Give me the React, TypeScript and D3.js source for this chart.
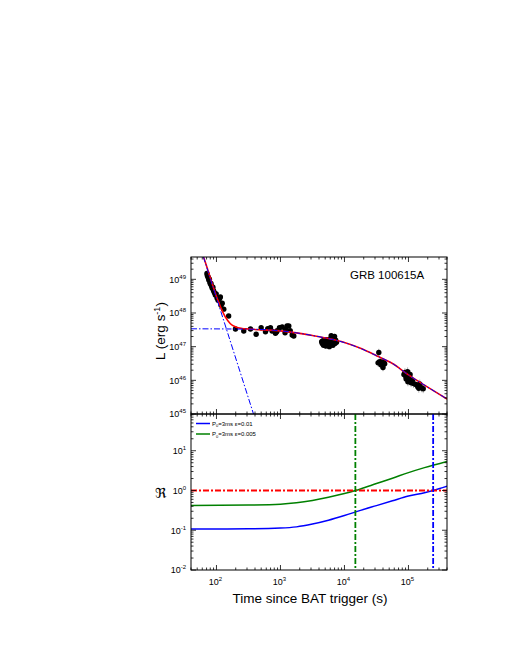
import React from "react";
import * as d3 from "d3";

// ---------- data ----------
const xTickExps = [2, 3, 4, 5];
const topYExps = [45, 46, 47, 48, 49];
const botYExps = [-2, -1, 0, 1];

// observed luminosity points, grouped by epoch (t in s, L in erg/s, err in dex)
const steepObsT = [71, 72, 73.5, 75, 76, 77.5, 79, 80.5, 82, 84, 86, 88, 90, 93, 96, 99, 102, 106, 110, 112, 115, 118, 123, 130, 155];
const steepObsL = [1.5e49, 1.3e49, 1.2e49, 1.1e49, 9.5e48, 1.0e49, 8e48, 7.2e48, 7.6e48, 6.2e48, 5.4e48, 5.8e48, 4.6e48, 4.0e48, 3.4e48, 3.7e48, 2.8e48, 2.4e48, 2.6e48, 2.7e48, 3.0e48, 1.7e48, 1.95e48, 1.3e48, 8.1e47];
const plateauObsT = [198, 267, 340, 417, 499, 583, 633, 698, 740, 835, 866, 888, 964, 1063, 1180, 1197, 1266, 1349, 1420, 1524, 1615];
const plateauObsL = [3.34e47, 2.92e47, 3.34e47, 2.33e47, 3.66e47, 2.78e47, 3.41e47, 3.66e47, 2.9e47, 2.49e47, 2.72e47, 2.98e47, 3.66e47, 3.84e47, 2.6e47, 3.28e47, 4.1e47, 4.1e47, 3.0e47, 2.22e47, 2.07e47];
const blobObsT = [4400, 4500, 4600, 4700, 4800, 4900, 5000, 5100, 5200, 5300, 5400, 5500, 5600, 5700, 5800, 5800, 5900, 6000, 6100, 6200, 6200, 6300, 6400, 6500, 6600, 6700, 6800, 6900, 7000, 7100, 7300, 7500];
const blobObsL = [1.4e47, 1.25e47, 1.5e47, 1.1e47, 1.35e47, 1.2e47, 1.45e47, 1.05e47, 1.3e47, 1.6e47, 1.15e47, 1.4e47, 1.25e47, 1.5e47, 1.1e47, 1.0e47, 1.35e47, 1.7e47, 1.2e47, 1.45e47, 2.1e47, 1.8e47, 1.3e47, 1.55e47, 1.1e47, 1.9e47, 1.4e47, 1.65e47, 2.0e47, 1.25e47, 1.55e47, 1.35e47];
const midObsT = [33500, 34400, 35000, 36500, 37000, 38000, 39500, 40000, 41000, 42500];
const midObsL = [3.3e46, 6.7e46, 3.5e46, 3.6e46, 2.9e46, 3.2e46, 2.8e46, 2.4e46, 3.6e46, 3.1e46];
const lateObsT = [85000, 88000, 91000, 92000, 94000, 97000, 98000, 100000, 103000, 106000, 110000, 115000, 120000, 130000, 140000, 145000, 150000, 160000, 170000];
const lateObsL = [1.5e46, 1.7e46, 1.3e46, 1.1e46, 1.6e46, 1.8e46, 9e45, 1.4e46, 1.1e46, 1.5e46, 8.5e45, 1.0e46, 8e45, 7.5e45, 6.5e45, 5.8e45, 7.8e45, 6e45, 5.6e45];
const groupErrDex = [0.05, 0.07, 0.08, 0.11, 0.13];

// model components
const steepT = [55, 379];
const steepL = [1e50, 1e45];
const plateauT = [40, 316, 1000, 1780, 3160, 5620, 10000, 17800, 31600, 56200, 100000, 178000, 400000];
const plateauL = [3.39e47, 3.31e47, 2.95e47, 2.57e47, 2.14e47, 1.74e47, 1.32e47, 8.9e46, 5.4e46, 3.16e46, 1.45e46, 7.2e45, 2.8e45];
const totalT = [60, 67, 75, 81, 90, 100, 110, 120, 138, 165, 200, 250, 316, 1000, 1780, 3160, 5620, 10000, 17800, 31600, 56200, 100000, 178000, 400000];
const totalL = [5.9e49, 3.2e49, 1.65e49, 1.05e49, 5.6e48, 3.1e48, 1.94e48, 1.29e48, 7.5e47, 4.8e47, 3.85e47, 3.47e47, 3.33e47, 2.95e47, 2.57e47, 2.14e47, 1.74e47, 1.32e47, 8.9e46, 5.4e46, 3.16e46, 1.45e46, 7.2e45, 2.8e45];

// lower panel: ratio curves
const blueT = [40, 316, 1000, 1780, 3160, 5620, 10000, 17800, 31600, 56200, 100000, 178000, 243000, 400000];
const blueR = [0.1076, 0.1089, 0.1135, 0.1216, 0.1429, 0.178, 0.234, 0.316, 0.417, 0.55, 0.724, 0.881, 1.0, 1.28];
const greenT = [40, 316, 1000, 1780, 3160, 5620, 10000, 14800, 17800, 31600, 56200, 100000, 178000, 400000];
const greenR = [0.422, 0.431, 0.452, 0.49, 0.562, 0.676, 0.841, 1.0, 1.096, 1.496, 2.04, 2.82, 3.76, 5.4];
const thresholdR = 1;
const greenCrossT = 14800;
const blueCrossT = 243000;
const legendEps = ["0.01", "0.005"];
const legendColors = ["#0000ff", "#008000"];

// ---------- layout ----------
const W = 510, H = 660;
const L = 191, R = 447, T1 = 257, B1 = 414, T2 = 414, B2 = 570;
const FONT = "'Liberation Sans', Arial, Helvetica, sans-serif";

const x = d3.scaleLog().domain([40, 4e5]).range([L, R]);
const y1 = d3.scaleLog().domain([1e45, 4.6e49]).range([B1, T1]);
const y2 = d3.scaleLog().domain([0.01, 84]).range([B2, T2]);

function minorVals(domain: number[], lo: number, hi: number) {
  const out: number[] = [];
  for (let e = lo; e <= hi; e++) {
    for (let m = 2; m <= 9; m++) {
      const v = m * Math.pow(10, e);
      if (v >= domain[0] && v <= domain[1]) out.push(v);
    }
  }
  return out;
}

const Pow = ({ x: px, y: py, exp, anchor }: { x: number; y: number; exp: number; anchor: string }) => (
  <text x={px} y={py} fontSize={9} fontFamily={FONT} textAnchor={anchor}>
    10<tspan dy={-4} fontSize={6}>{exp}</tspan>
  </text>
);

export default function App() {
  const lineTop = (ys: any) =>
    d3.line<[number, number]>().x((d) => x(d[0])).y((d) => ys(d[1])).curve(d3.curveMonotoneX);
  const zip = (a: number[], b: number[]) => a.map((v, i) => [v, b[i]] as [number, number]);

  const groups = [
    [steepObsT, steepObsL],
    [plateauObsT, plateauObsL],
    [blobObsT, blobObsL],
    [midObsT, midObsL],
    [lateObsT, lateObsL],
  ];
  const obs: { t: number; l: number; e: number }[] = [];
  groups.forEach((g, gi) => g[0].forEach((t, i) => obs.push({ t, l: g[1][i], e: groupErrDex[gi] })));

  const xMinor = minorVals(x.domain(), 1, 5);
  const y1Minor = minorVals(y1.domain(), 45, 49);
  const y2Minor = minorVals(y2.domain(), -2, 1);
  const MJ = 5, MN = 2.5;

  const frameTicks = (ys: any, top: number, bottom: number, yMaj: number[], yMin: number[]) => (
    <g stroke="#000" strokeWidth={0.8}>
      {xTickExps.map((e) => {
        const px = x(Math.pow(10, e));
        return (
          <g key={"xm" + e}>
            <line x1={px} x2={px} y1={bottom} y2={bottom - MJ} />
            <line x1={px} x2={px} y1={top} y2={top + MJ} />
          </g>
        );
      })}
      {xMinor.map((v, i) => (
        <g key={"xn" + i}>
          <line x1={x(v)} x2={x(v)} y1={bottom} y2={bottom - MN} />
          <line x1={x(v)} x2={x(v)} y1={top} y2={top + MN} />
        </g>
      ))}
      {yMaj.map((e) => {
        const py = ys(Math.pow(10, e));
        return (
          <g key={"ym" + e}>
            <line x1={L} x2={L + MJ} y1={py} y2={py} />
            <line x1={R} x2={R - MJ} y1={py} y2={py} />
          </g>
        );
      })}
      {yMin.map((v, i) => (
        <g key={"yn" + i}>
          <line x1={L} x2={L + MN} y1={ys(v)} y2={ys(v)} />
          <line x1={R} x2={R - MN} y1={ys(v)} y2={ys(v)} />
        </g>
      ))}
    </g>
  );

  return (
    <svg width={W} height={H} style={{ position: "absolute", left: 0, top: 0 }} fontFamily={FONT}>
      <rect width={W} height={H} fill="#fff" />
      <defs>
        <clipPath id="cTop"><rect x={L} y={T1} width={R - L} height={B1 - T1} /></clipPath>
        <clipPath id="cBot"><rect x={L} y={T2} width={R - L} height={B2 - T2} /></clipPath>
      </defs>

      {/* ---------- top panel ---------- */}
      <g clipPath="url(#cTop)">
        {obs.map((d, i) => (
          <g key={"e" + i} stroke="#a8a8a8" strokeWidth={0.9}>
            <line x1={x(d.t)} x2={x(d.t)} y1={y1(d.l * Math.pow(10, d.e))} y2={y1(d.l / Math.pow(10, d.e))} />
            <line x1={x(d.t * 0.95)} x2={x(d.t * 1.05)} y1={y1(d.l)} y2={y1(d.l)} />
          </g>
        ))}
        {obs.map((d, i) => (
          <circle key={"o" + i} cx={x(d.t)} cy={y1(d.l)} r={2.7} fill="#000" />
        ))}
        <path d={lineTop(y1)(zip(totalT, totalL)) || ""} fill="none" stroke="#ff0000" strokeWidth={1.6} />
        <path d={lineTop(y1)(zip(plateauT, plateauL)) || ""} fill="none" stroke="#0000ff" strokeWidth={1} strokeDasharray="6,2,1.5,2" />
        <path d={lineTop(y1)(zip(steepT, steepL)) || ""} fill="none" stroke="#0000ff" strokeWidth={1} strokeDasharray="6,2,1.5,2" />
      </g>
      <rect x={L} y={T1} width={R - L} height={B1 - T1} fill="none" stroke="#000" strokeWidth={1} />
      {frameTicks(y1, T1, B1, topYExps, y1Minor)}
      {topYExps.map((e) => (
        <Pow key={"tl" + e} x={186} y={y1(Math.pow(10, e)) + 3.3} exp={e} anchor="end" />
      ))}
      <text x={350} y={279} fontSize={11.5} fontFamily={FONT}>GRB 100615A</text>
      <text transform={`translate(165,331) rotate(-90)`} textAnchor="middle" fontSize={13.5} fontFamily={FONT}>
        L (erg s<tspan dy={-5} fontSize={9}>-1</tspan><tspan dy={5}>)</tspan>
      </text>

      {/* ---------- bottom panel ---------- */}
      <g clipPath="url(#cBot)">
        <path d={lineTop(y2)(zip(blueT, blueR)) || ""} fill="none" stroke="#0000ff" strokeWidth={1.5} />
        <path d={lineTop(y2)(zip(greenT, greenR)) || ""} fill="none" stroke="#008000" strokeWidth={1.5} />
        <line x1={L} x2={R} y1={y2(thresholdR)} y2={y2(thresholdR)} stroke="#ff0000" strokeWidth={1.8} strokeDasharray="6,2,2,2" />
        <line x1={x(greenCrossT)} x2={x(greenCrossT)} y1={T2} y2={B2} stroke="#008000" strokeWidth={1.8} strokeDasharray="6,2,2,2" />
        <line x1={x(blueCrossT)} x2={x(blueCrossT)} y1={T2} y2={B2} stroke="#0000ff" strokeWidth={1.8} strokeDasharray="6,2,2,2" />
      </g>
      <rect x={L} y={T2} width={R - L} height={B2 - T2} fill="none" stroke="#000" strokeWidth={1} />
      {frameTicks(y2, T2, B2, botYExps, y2Minor)}
      {botYExps.map((e) => (
        <Pow key={"bl" + e} x={186} y={y2(Math.pow(10, e)) + 3.3} exp={e} anchor="end" />
      ))}
      {xTickExps.map((e) => (
        <Pow key={"xl" + e} x={x(Math.pow(10, e)) - 1} y={585} exp={e} anchor="middle" />
      ))}
      {legendEps.map((eps, i) => (
        <g key={"lg" + i}>
          <line x1={196} x2={210} y1={423.5 + i * 10.5} y2={423.5 + i * 10.5} stroke={legendColors[i]} strokeWidth={1.5} />
          <text x={212} y={425.5 + i * 10.5} fontSize={6} fontFamily={FONT}>
            P<tspan dy={1.5} fontSize={4}>0</tspan><tspan dy={-1.5}>=3ms  ε={eps}</tspan>
          </text>
        </g>
      ))}
      <text x={161} y={498} textAnchor="middle" fontSize={14} fontFamily="'DejaVu Sans', sans-serif">ℜ</text>
      <text x={310} y={603} textAnchor="middle" fontSize={13.5} fontFamily={FONT}>Time since BAT trigger (s)</text>
    </svg>
  );
}
